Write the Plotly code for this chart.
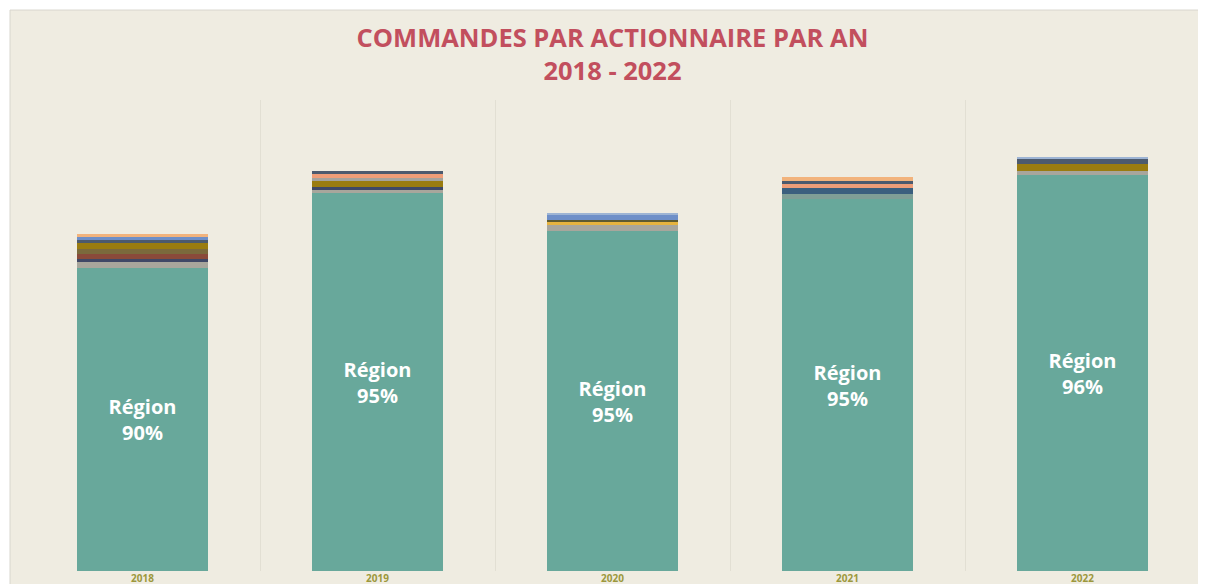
import plotly.graph_objects as go

annees = ['2018', '2019', '2020', '2021', '2022']

# commandes par actionnaire (empilées de bas en haut)
region = [303, 378, 340, 372, 396]
gris = [6, 3, 6, 0, 4]
gris_vert = [0, 0, 0, 5, 0]
marine = [3, 3, 0, 0, 0]
brun = [5, 0, 0, 0, 0]
olive_brun = [5, 0, 0, 0, 0]
olive = [6, 6, 0, 0, 7]
gris_clair = [0, 3, 0, 0, 0]
bleu_fonce = [0, 0, 0, 6, 0]
jaune = [0, 0, 3, 0, 0]
kaki = [0, 0, 2, 0, 0]
saumon = [0, 4, 0, 4, 0]
ardoise = [3, 3, 0, 3, 5]
bleu = [3, 0, 5, 0, 0]
orange = [3, 0, 0, 4, 0]
bleu_clair = [0, 0, 2, 0, 2]

region_labels = ['Région<br>90%', 'Région<br>95%', 'Région<br>95%', 'Région<br>95%', 'Région<br>96%']

autres = [
    ('Gris', gris, '#a8a69c'),
    ('Gris vert', gris_vert, '#7f9e96'),
    ('Marine', marine, '#3f4866'),
    ('Brun', brun, '#8a4a3a'),
    ('Olive brun', olive_brun, '#7b6a3c'),
    ('Olive', olive, '#9a7c10'),
    ('Gris clair', gris_clair, '#a4a29c'),
    ('Bleu foncé', bleu_fonce, '#3b5f7e'),
    ('Jaune', jaune, '#e6b33f'),
    ('Kaki', kaki, '#5d5a30'),
    ('Saumon', saumon, '#ee9d78'),
    ('Ardoise', ardoise, '#4c5a6e'),
    ('Bleu', bleu, '#6e8fc8'),
    ('Orange', orange, '#f2b37c'),
    ('Bleu clair', bleu_clair, '#9db4d4'),
]

fig = go.Figure()
fig.add_trace(go.Bar(name='Région', x=annees, y=region, marker_color='#68a89b',
                     marker_line_width=0, text=region_labels, textposition='inside',
                     insidetextanchor='middle', textangle=0,
                     textfont=dict(family='Open Sans', size=20, color='white', weight='bold')))
for nom, vals, couleur in autres:
    fig.add_trace(go.Bar(name=nom, x=annees, y=vals, marker_color=couleur,
                         marker_line_width=0, textposition='none'))

fig.update_layout(
    barmode='stack',
    bargap=0.44,
    width=1206, height=584,
    margin=dict(l=17, r=14, t=92, b=21),
    paper_bgcolor='white',
    plot_bgcolor='#efece1',
    showlegend=False,
    title=dict(text='COMMANDES PAR ACTIONNAIRE PAR AN<br>2018 - 2022',
               x=0.5, xref='paper', xanchor='center', y=1 - 39 / 584, yanchor='middle',
               font=dict(family='Open Sans', size=25.5, color='#c24f5e', weight='bold')),
    shapes=[dict(type='rect', xref='paper', yref='paper', layer='below',
                 x0=-15 / 1175, x1=1.0034, y0=-0.06, y1=1.191,
                 fillcolor='#efece1', line=dict(color='#d8d6ce', width=1))],
)
fig.update_xaxes(tickson='boundaries', showgrid=True, gridcolor='#e2dfd3', gridwidth=1,
                 ticks='', showline=False, zeroline=False, automargin=False,
                 tickfont=dict(family='Open Sans', size=10, color='#9c983c', weight='bold'))
fig.update_yaxes(range=[0, 471], showgrid=False, showticklabels=False, zeroline=False,
                 automargin=False)

fig.write_html('out.html')
